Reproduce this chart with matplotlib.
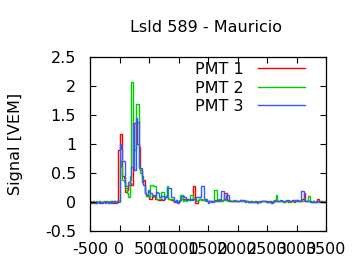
import numpy as np
import matplotlib
matplotlib.use("Agg")
import matplotlib.pyplot as plt
from matplotlib.ticker import FixedLocator, FuncFormatter

# Time bins (ns): 25 ns bins from -500 to 3500
bin_start = -500
bin_width = 25
n_bins = 160

pmt1 = [
    0.00, -0.01, 0.00, -0.02, -0.01, 0.00, -0.01, -0.02, 0.00, 0.00,
    -0.01, 0.00, -0.02, 0.00, 0.01, -0.01, 0.00, -0.01, 0.00, 0.90,
    1.17, 1.17, 0.45, 0.42, 0.18, 0.20, 0.30, 0.32, 0.30, 1.36,
    1.36, 1.38, 1.00, 0.95, 0.55, 0.35, 0.38, 0.15, 0.10, 0.12,
    0.05, 0.05, 0.08, 0.10, 0.05, 0.06, 0.03, 0.03, 0.05, 0.03,
    0.05, 0.10, 0.08, 0.05, 0.05, 0.04, 0.02, 0.00, 0.01, 0.00,
    0.02, 0.03, 0.05, 0.04, 0.05, 0.05, 0.06, 0.04, 0.05, 0.05,
    0.28, -0.02, -0.02, 0.04, 0.05, 0.05, 0.03, 0.05, 0.03, 0.02,
    0.01, 0.02, 0.00, 0.02, 0.01, 0.03, 0.02, 0.04, 0.02, 0.03,
    0.04, 0.16, 0.16, 0.03, 0.03, 0.02, 0.01, 0.01, 0.02, 0.01,
    0.02, 0.01, 0.03, 0.02, 0.01, 0.00, 0.02, 0.00, 0.00, 0.01,
    0.00, 0.00, 0.01, 0.00, 0.00, 0.01, 0.02, 0.02, 0.01, 0.00,
    0.00, 0.00, 0.01, 0.00, 0.02, 0.03, 0.02, 0.02, 0.01, 0.02,
    0.01, 0.00, 0.02, 0.01, 0.00, 0.02, 0.01, 0.03, 0.00, 0.02,
    0.03, 0.02, 0.02, 0.03, 0.05, 0.16, 0.02, 0.01, 0.02, 0.01,
    0.00, 0.01, 0.00, 0.02, 0.05, 0.02, 0.01, 0.00, 0.00, 0.00,
]

pmt2 = [
    0.01, 0.00, 0.00, -0.01, 0.02, 0.00, 0.01, 0.00, 0.00, 0.01,
    0.00, 0.01, 0.00, 0.02, 0.01, 0.00, 0.02, 0.01, 0.00, 0.00,
    0.70, 0.60, 0.38, 0.35, 0.25, 0.15, 0.08, 0.45, 2.07, 1.35,
    0.90, 1.69, 1.69, 0.60, 0.50, 0.38, 0.30, 0.15, 0.10, 0.12,
    0.08, 0.30, 0.30, 0.28, 0.28, 0.05, 0.05, 0.05, 0.17, 0.17,
    0.08, 0.10, 0.28, 0.05, 0.05, 0.05, 0.02, 0.02, 0.03, 0.02,
    0.03, 0.12, 0.12, 0.02, 0.04, 0.02, 0.03, 0.04, 0.12, 0.12,
    0.05, 0.03, 0.02, 0.03, 0.05, 0.04, 0.03, 0.05, 0.02, 0.02,
    0.01, 0.02, 0.02, 0.01, 0.21, 0.21, 0.02, 0.05, 0.05, 0.02,
    0.03, 0.03, 0.04, 0.02, 0.02, 0.02, 0.01, 0.04, 0.04, 0.01,
    0.01, 0.02, 0.01, 0.01, 0.01, 0.02, 0.01, 0.00, 0.01, 0.00,
    0.00, 0.01, 0.00, 0.00, 0.01, 0.00, 0.01, 0.02, 0.01, 0.01,
    0.00, 0.00, 0.00, 0.01, 0.00, 0.02, 0.12, 0.02, 0.01, 0.02,
    0.01, 0.00, 0.02, 0.01, 0.02, 0.00, 0.01, 0.02, 0.03, 0.01,
    0.04, 0.02, 0.01, 0.02, 0.02, 0.03, 0.02, 0.01, 0.11, 0.02,
    0.00, 0.01, 0.00, 0.01, 0.00, 0.01, 0.00, 0.00, 0.01, 0.00,
]

pmt3 = [
    -0.01, 0.00, 0.01, 0.00, -0.02, 0.00, 0.01, 0.00, -0.01, 0.00,
    0.01, 0.00, 0.00, -0.01, 0.00, 0.02, 0.00, 0.01, 0.00, 0.01,
    1.00, 0.92, 0.70, 0.70, 0.27, 0.27, 0.35, 0.38, 0.60, 1.36,
    0.55, 1.45, 1.38, 0.58, 0.58, 0.45, 0.30, 0.15, 0.12, 0.20,
    0.18, 0.15, 0.10, 0.12, 0.10, 0.18, 0.15, 0.08, 0.10, 0.10,
    0.05, 0.08, 0.24, 0.24, 0.24, 0.09, 0.09, 0.02, 0.03, -0.01,
    0.02, 0.03, 0.10, 0.10, 0.08, 0.04, 0.06, 0.05, 0.03, 0.04,
    0.06, 0.04, 0.08, 0.08, 0.08, 0.27, 0.27, 0.05, 0.05, 0.02,
    -0.02, 0.02, 0.01, 0.00, 0.02, 0.01, 0.03, 0.02, 0.03, 0.19,
    0.19, 0.05, 0.12, 0.12, 0.03, 0.02, 0.01, 0.02, 0.01, 0.02,
    0.01, 0.02, 0.03, 0.04, 0.04, 0.02, 0.01, 0.00, 0.00, 0.01,
    0.00, 0.00, 0.00, -0.02, 0.00, 0.00, 0.02, 0.02, 0.01, 0.02,
    0.00, 0.01, 0.00, -0.02, 0.00, 0.01, 0.02, 0.01, 0.02, 0.04,
    0.02, 0.01, 0.02, 0.04, 0.04, 0.02, 0.01, 0.02, 0.01, 0.03,
    0.02, 0.03, 0.02, 0.19, 0.19, 0.03, 0.02, 0.01, 0.02, 0.00,
    0.00, 0.01, 0.00, 0.00, 0.01, 0.00, 0.00, 0.01, 0.00, 0.00,
]

series_labels = ["PMT 1", "PMT 2", "PMT 3"]
series_colors = ["#ff0000", "#00cc00", "#2f5cff"]
x_ticks = [-500, 0, 500, 1000, 1500, 2000, 2500, 3000, 3500]
y_ticks = [-0.5, 0, 0.5, 1, 1.5, 2, 2.5]
title = "LsId 589 - Mauricio"
ylabel = "Signal [VEM]"

edges = bin_start + bin_width * np.arange(n_bins + 1)

FS = 11.5
plt.rcParams['font.family'] = ['DejaVu Sans']
fig = plt.figure(figsize=(3.6, 2.7), dpi=100)
ax = fig.add_axes([90 / 360, 1 - 231 / 270, 236 / 360, 174 / 270])

for vals, lab, col in zip([pmt1, pmt2, pmt3], series_labels, series_colors):
    ax.stairs(vals, edges, baseline=None, color=col, lw=1.0, label=lab)

ax.set_xlim(-500, 3500)
ax.set_ylim(-0.5, 2.5)
ax.xaxis.set_major_locator(FixedLocator(x_ticks))
ax.yaxis.set_major_locator(FixedLocator(y_ticks))
ax.xaxis.set_major_formatter(FuncFormatter(lambda v, p: "%g" % v))
ax.yaxis.set_major_formatter(FuncFormatter(lambda v, p: "%g" % v))
ax.tick_params(direction='in', length=4, width=0.8, top=True, right=True,
               labelsize=FS, colors='black')
ax.tick_params(axis='y', pad=10)
ax.tick_params(axis='x', pad=8)
for s in ax.spines.values():
    s.set_linewidth(0.9)

fig.text(206 / 360, 1 - 28 / 270, title, ha='center', va='center', fontsize=FS)
ax.set_ylabel(ylabel, fontsize=FS)
ax.yaxis.set_label_coords(-0.285, 0.5)

leg = ax.legend(loc='upper right', bbox_to_anchor=(305 / 360, 1 - 62 / 270),
                bbox_transform=fig.transFigure, frameon=False, markerfirst=False,
                handlelength=2.95, handletextpad=0.87, labelspacing=0.22,
                borderpad=0, borderaxespad=0, fontsize=FS)

fig.savefig("out.png", dpi=100)
